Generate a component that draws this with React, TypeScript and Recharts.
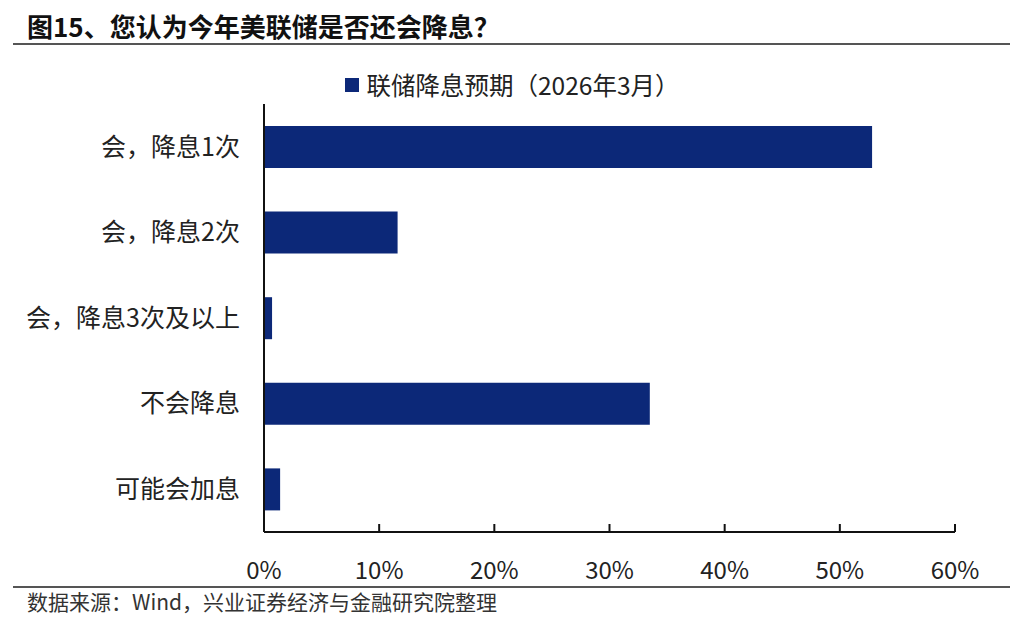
import React from 'react';
import { BarChart, Bar, XAxis, YAxis, Legend } from 'recharts';

const categories = ['会，降息1次', '会，降息2次', '会，降息3次及以上', '不会降息', '可能会加息'];
const values = [52.8, 11.6, 0.7, 33.5, 1.4];
const xTicks = [0, 10, 20, 30, 40, 50, 60];
const seriesName = '联储降息预期（2026年3月）';
const title = '图15、您认为今年美联储是否还会降息？';
const source = '数据来源：Wind，兴业证券经济与金融研究院整理';

const data = categories.map((c, i) => ({ name: c, value: values[i] }));

const FONT = '"Noto Sans CJK SC", "Noto Sans", sans-serif';
const BAR = '#0C2878';

const XTick = (props: any) => {
  const { x, y, payload } = props;
  return (
    <g>
      <line x1={x} y1={y} x2={x} y2={y - 8} stroke="#111" strokeWidth={2} />
      <text x={x} y={y + 36} textAnchor="middle" dominantBaseline="central" fontSize={24} fill="#222" fontFamily={FONT}>
        {`${payload.value}%`}
      </text>
    </g>
  );
};

const LegendContent = () => (
  <div style={{ display: 'flex', justifyContent: 'center', alignItems: 'center', width: 1024, height: 30, fontFamily: FONT }}>
    <div style={{ width: 14, height: 14, background: BAR, marginRight: 8 }} />
    <span style={{ fontSize: 24.5, color: '#222', lineHeight: '30px' }}>{seriesName}</span>
  </div>
);

export default function App() {
  return (
    <div style={{ position: 'absolute', left: 0, top: 0, width: 1024, height: 628, background: '#fff', fontFamily: FONT }}>
      <div style={{ position: 'absolute', left: 27, top: 11, fontSize: 26, fontWeight: 700, color: '#111', lineHeight: '30px', whiteSpace: 'nowrap' }}>
        {title}
      </div>
      <div style={{ position: 'absolute', left: 13, top: 43, width: 997, height: 2, background: '#555' }} />
      <BarChart
        width={1024}
        height={628}
        data={data}
        layout="vertical"
        margin={{ top: 104, right: 69, bottom: 56, left: 0 }}
      >
        <XAxis
          type="number"
          dataKey="value"
          domain={[0, 60]}
          ticks={xTicks}
          interval={0}
          height={40}
          tickSize={0}
          tickMargin={0}
          tickLine={false}
          tick={<XTick />}
          axisLine={{ stroke: '#111', strokeWidth: 2 }}
        />
        <YAxis
          type="category"
          dataKey="name"
          width={264}
          tickSize={0}
          tickMargin={24}
          tickLine={false}
          axisLine={{ stroke: '#111', strokeWidth: 2 }}
          tick={{ fontSize: 25, fill: '#222', fontFamily: FONT }}
        />
        <Legend
          layout="horizontal"
          verticalAlign="middle"
          align="center"
          content={<LegendContent />}
          wrapperStyle={{ top: 70, left: 0, width: 1024, height: 30 }}
        />
        <Bar dataKey="value" name={seriesName} fill={BAR} barSize={42} isAnimationActive={false} />
      </BarChart>
      <div style={{ position: 'absolute', left: 13, top: 586, width: 997, height: 2, background: '#555' }} />
      <div style={{ position: 'absolute', left: 27, top: 589, fontSize: 21, color: '#333', lineHeight: '24px', whiteSpace: 'nowrap' }}>
        {source}
      </div>
    </div>
  );
}
